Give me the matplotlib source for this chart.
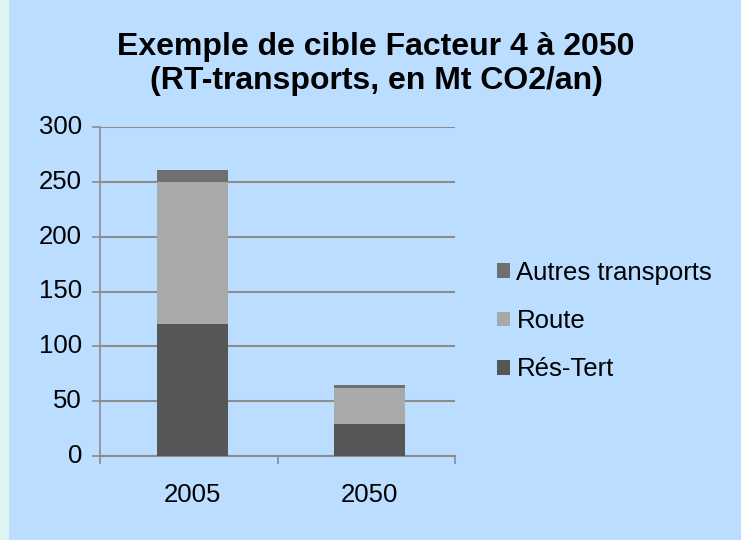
import matplotlib
matplotlib.use("Agg")
import matplotlib.pyplot as plt
from matplotlib.patches import Rectangle, Patch
import numpy as np

plt.rcParams['font.family'] = ['Liberation Sans', 'DejaVu Sans']

categories = ["2005", "2050"]
series_names = ["Rés-Tert", "Route", "Autres transports"]
res_tert = [120, 29]
route = [130, 33]
autres = [11, 3]
series_colors = ["#565656", "#A9A9A9", "#6F6F6F"]
yticks = [0, 50, 100, 150, 200, 250, 300]

bg = "#BBDDFF"
fig = plt.figure(figsize=(7.41, 5.40), dpi=100, facecolor=bg)
fig.patches.append(Rectangle((0, 0), 9/741, 1, transform=fig.transFigure,
                             facecolor="#DDF5F0", edgecolor="none", zorder=0))

ax = fig.add_axes([100/741, 84/540, 355/741, 329/540])
ax.set_facecolor(bg)

x = np.arange(len(categories))
width = 0.4
bottom = np.zeros(len(categories))
handles = []
for vals, name, col in zip([res_tert, route, autres], series_names, series_colors):
    ax.bar(x, vals, width, bottom=bottom, color=col, zorder=3, edgecolor="none")
    bottom += np.array(vals)
    handles.append(Patch(facecolor=col, label=name))

ax.set_xlim(-0.52, 1.48)
ax.set_ylim(0, 300)
ax.set_yticks(yticks)
ax.set_yticklabels([str(v) for v in yticks])
ax.yaxis.grid(True, color="#8C8C8C", linewidth=1.5, zorder=0)
ax.set_axisbelow(True)

ax.set_xticks(x)
ax.set_xticklabels(categories)
ax.set_xticks([-0.52, 0.48, 1.48], minor=True)
ax.tick_params(axis="x", which="major", length=0, pad=28, labelsize=18.5)
ax.tick_params(axis="x", which="minor", length=6, color="#8C8C8C", width=1.2)
ax.tick_params(axis="y", length=6, color="#8C8C8C", width=1.2, labelsize=18.5, pad=7)
for lbl in ax.get_xticklabels():
    lbl.set_va("center")
for lbl in ax.get_yticklabels():
    lbl.set_va("center")

for s in ["top", "right"]:
    ax.spines[s].set_visible(False)
ax.spines["left"].set_color("#8C8C8C")
ax.spines["left"].set_linewidth(1.2)
ax.spines["bottom"].set_color("#8C8C8C")
ax.spines["bottom"].set_linewidth(1.5)

fig.text(376/741, 1 - 64/540, "Exemple de cible Facteur 4 à 2050\n(RT-transports, en Mt CO2/an)",
         ha="center", va="center", fontsize=23, fontweight="bold", linespacing=1.2)

leg = fig.legend(handles=handles[::-1], loc="center left",
                 bbox_to_anchor=(474/741, 1 - 321/540), frameon=False,
                 fontsize=18.5, handlelength=0.5, handleheight=0.5,
                 handletextpad=0.25, labelspacing=0.95)

fig.savefig("out.png", dpi=100, facecolor=bg)
